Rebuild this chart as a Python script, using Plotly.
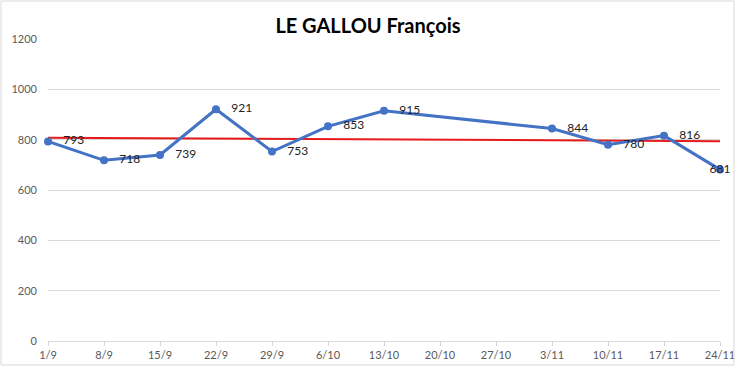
import numpy as np
import plotly.graph_objects as go

categories = ["1/9", "8/9", "15/9", "22/9", "29/9", "6/10", "13/10", "20/10", "27/10", "3/11", "10/11", "17/11", "24/11"]
values = [793, 718, 739, 921, 753, 853, 915, None, None, 844, 780, 816, 681]
y_ticks = [0, 200, 400, 600, 800, 1000, 1200]

idx = list(range(len(categories)))
xs = np.array([i for i, v in zip(idx, values) if v is not None], dtype=float)
ys = np.array([v for v in values if v is not None], dtype=float)
slope, intercept = np.polyfit(xs, ys, 1)
trend = [intercept + slope * i for i in idx]

labels = ["   " + str(v) if v is not None else "" for v in values]
labels[-1] = str(values[-1])
positions = ["middle right"] * len(values)
positions[-1] = "middle center"

fig = go.Figure()
fig.add_trace(go.Scatter(
    x=idx, y=trend, mode="lines",
    line=dict(color="#E41A1C", width=2),
    hoverinfo="skip", showlegend=False,
))
fig.add_trace(go.Scatter(
    x=idx, y=values, mode="lines+markers+text",
    connectgaps=True,
    line=dict(color="#4472C4", width=3),
    marker=dict(color="#4472C4", size=8),
    text=labels,
    textposition=positions,
    textfont=dict(family="Lato, Liberation Sans, sans-serif", size=12, color="#222222"),
    showlegend=False,
))

fig.update_layout(
    width=736, height=367,
    margin=dict(l=48, r=16, t=39, b=26),
    paper_bgcolor="white", plot_bgcolor="white",
    title=dict(text="<b>LE GALLOU François</b>", x=0.5, xanchor="center",
               yref="container", y=0.93, yanchor="middle",
               font=dict(family="Lato, Open Sans, sans-serif", size=20, color="#000000")),
    xaxis=dict(
        range=[0, 12], tickmode="array", tickvals=idx, ticktext=categories,
        showgrid=False, zeroline=False, showline=True, linecolor="#D9D9D9",
        ticks="outside", ticklen=4, tickcolor="#D9D9D9", automargin=False,
        tickfont=dict(family="Lato, Liberation Sans, sans-serif", size=11, color="#595959"),
    ),
    yaxis=dict(
        range=[0, 1200], tickvals=y_ticks, automargin=False,
        showgrid=True, gridcolor="#D9D9D9", zeroline=False, showline=False,
        tickfont=dict(family="Lato, Liberation Sans, sans-serif", size=11, color="#595959"),
        ticklabelstandoff=10,
    ),
    shapes=[dict(type="rect", xref="paper", yref="paper",
                 x0=-47/672, x1=686/672, y0=-24/302, y1=1 + 38/302,
                 line=dict(color="#D9D9D9", width=1))],
)
fig.update_traces(cliponaxis=False)

fig.write_html("out.html", config={"displayModeBar": False},
               post_script="document.body.style.margin='0';")
